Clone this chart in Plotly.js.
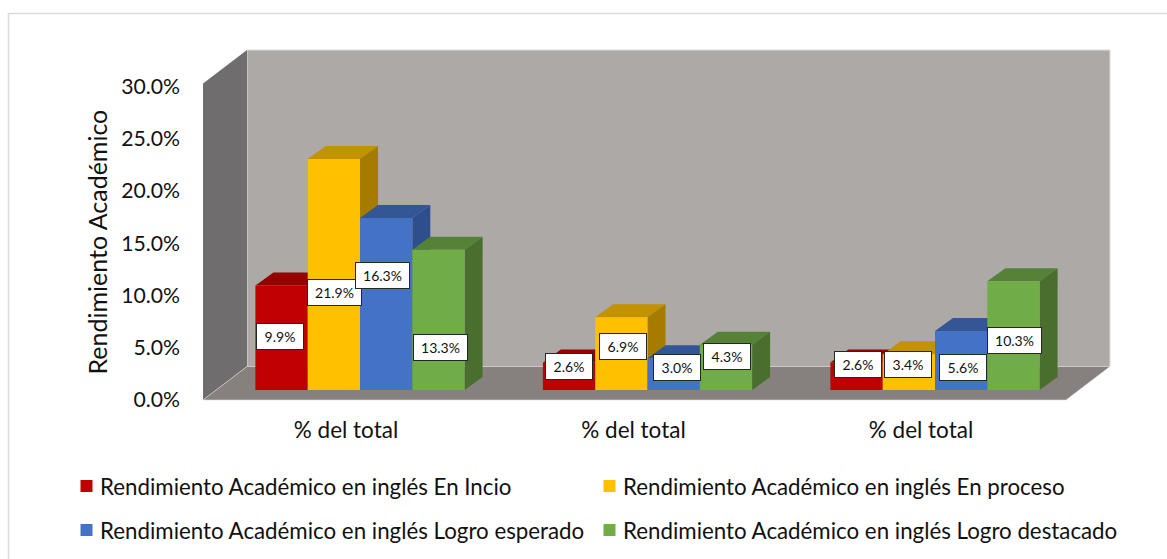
<!DOCTYPE html>
<html>
<head>
<meta charset="utf-8">
<script src="https://cdn.plot.ly/plotly-3.0.1.min.js"></script>
<style>html,body{margin:0;padding:0;background:#fff;overflow:hidden}</style>
</head>
<body>
<div id="chart" style="width:1167px;height:559px"></div>
<script>
// ---- data ----
const groups = [0, 1, 2];
const groupLabels = ["% del total", "% del total", "% del total"];
const enInicio = [9.9, 2.6, 2.6];
const enProceso = [21.9, 6.9, 3.4];
const logroEsperado = [16.3, 3.0, 5.6];
const logroDestacado = [13.3, 4.3, 10.3];
const seriesNames = [
  "Rendimiento Académico en inglés En Incio",
  "Rendimiento Académico en inglés En proceso",
  "Rendimiento Académico en inglés Logro esperado",
  "Rendimiento Académico en inglés Logro destacado"
];
const yTitle = "Rendimiento Académico";
const yTicks = [0, 5, 10, 15, 20, 25, 30];
const yTickLabels = ["0.0%", "5.0%", "10.0%", "15.0%", "20.0%", "25.0%", "30.0%"];

// ---- styles and geometry ----
const W = 1167, H = 559;
const plotL = 203, plotR = 1110, plotT = 50, plotB = 400;
const pxPerUnit = 10.55, pxPerGroup = 287.5, group0Px = 360;
const barWidthPx = 52.3, depthX = 18, depthY = 13, baseLiftPx = 10;
const tickScale = 0.9905;
const frontColors = ["#C00000", "#FFC000", "#4472C4", "#70AD47"];
const topColors = ["#960000", "#C29200", "#335694", "#558236"];
const sideColors = ["#8A0000", "#A67C00", "#2F4F8C", "#4A6E2D"];
const labelShiftX = [[-2, 0.5, -4, 2], [0, 2, 3, 1], [1, -0.5, 2, 1]];
const labelShiftY = [[-1, 18.5, -29, 28], [-10, -7, -7, -11], [-12, -8, 7.5, 5]];
const legendLeft = [60, 583, 60, 583];
const legendTop = [465, 465, 509, 509];
const legendIds = ["legend", "legend2", "legend3", "legend4"];
const FONT = "Lato, Carlito, Calibri, sans-serif";

const allSeries = [enInicio, enProceso, logroEsperado, logroDestacado];
const px = x => (x - plotL) / (plotR - plotL);
const py = y => (plotB - y) / (plotB - plotT);
const poly = pts => "M" + pts.map(p => px(p[0]) + "," + py(p[1])).join(" L") + " Z";

const xRange = [(plotL - group0Px) / pxPerGroup, (plotR - group0Px) / pxPerGroup];
const yTop = (plotB - plotT) / pxPerUnit;
const lift = baseLiftPx / pxPerUnit;
const dxU = depthX / pxPerGroup, dyU = depthY / pxPerUnit, wU = barWidthPx / pxPerGroup;

const traces = [];
// top and side faces, painted first, on the primary subplot
allSeries.forEach((vals, s) => {
  vals.forEach((v, g) => {
    const x0 = g + (s - 2) * wU, x1 = x0 + wU;
    const y0 = lift, y1 = lift + v;
    traces.push({
      type: "scatter", mode: "lines", x: [x0, x1, x1 + dxU, x0 + dxU, x0], y: [y1, y1, y1 + dyU, y1 + dyU, y1],
      fill: "toself", fillcolor: topColors[s], line: {width: 0}, showlegend: false, hoverinfo: "skip", xaxis: "x", yaxis: "y"
    });
    traces.push({
      type: "scatter", mode: "lines", x: [x1, x1 + dxU, x1 + dxU, x1, x1], y: [y0, y0 + dyU, y1 + dyU, y1, y0],
      fill: "toself", fillcolor: sideColors[s], line: {width: 0}, showlegend: false, hoverinfo: "skip", xaxis: "x", yaxis: "y"
    });
  });
});
// front faces on the overlaid subplot
allSeries.forEach((vals, s) => {
  traces.push({
    type: "bar", name: seriesNames[s], x: groups, y: vals, marker: {color: frontColors[s]},
    xaxis: "x", yaxis: "y2", legend: legendIds[s]
  });
});

const annotations = [{
  xref: "paper", yref: "paper", x: px(96), y: py(242.5), xanchor: "center", yanchor: "middle", text: yTitle,
  textangle: -90, showarrow: false, font: {family: FONT, size: 25, color: "#111"}
}];
allSeries.forEach((vals, s) => {
  vals.forEach((v, g) => {
    const txt = v.toFixed(1) + "%";
    annotations.push({
      xref: "x", yref: "y2", x: g + (s - 1.5) * wU, y: v / 2, text: txt, showarrow: false,
      xshift: labelShiftX[g][s], yshift: -labelShiftY[g][s],
      width: txt.length > 4 ? 53 : 46, height: 25, bgcolor: "#fff", bordercolor: "#262626", borderwidth: 1, borderpad: 0,
      font: {family: FONT, size: 14, color: "#111"}, align: "center", valign: "middle"
    });
  });
});

const shapes = [
  {type: "path", layer: "below", xref: "paper", yref: "paper", path: poly([[8.5, 559], [8.5, 13.5], [1167, 13.5]]).replace(" Z", ""), line: {color: "#DCDCDC", width: 1.6}},
  {type: "path", layer: "below", xref: "paper", yref: "paper", path: poly([[247, 50], [1110, 50], [1110, 366.5], [247, 366.5]]), fillcolor: "#ADA9A7", line: {color: "#DEDCDB", width: 1}},
  {type: "path", layer: "below", xref: "paper", yref: "paper", path: poly([[203, 83.5], [247, 50], [247, 366.5], [203, 400]]), fillcolor: "#6F6D6D", line: {width: 0}},
  {type: "path", layer: "below", xref: "paper", yref: "paper", path: poly([[203, 400], [247, 366.5], [1110, 366.5], [1066, 400]]), fillcolor: "#86817F", line: {color: "#DEDCDB", width: 0.6}}
];

const layout = {
  width: W, height: H, autosize: false,
  margin: {l: plotL, r: W - plotR, t: plotT, b: H - plotB, pad: 0, autoexpand: false},
  paper_bgcolor: "#fff", plot_bgcolor: "rgba(0,0,0,0)",
  font: {family: FONT, color: "#111"},
  barmode: "group", bargap: 1 - 4 * wU, bargroupgap: 0,
  xaxis: {
    range: xRange, tickmode: "array", tickvals: groups.map(g => g - 14 / pxPerGroup), ticktext: groupLabels,
    showgrid: false, zeroline: false, showline: false, ticks: "", ticklabelstandoff: 14,
    tickfont: {family: FONT, size: 22.5, color: "#111"}
  },
  yaxis: {
    range: [0, yTop], tickmode: "array", tickvals: yTicks.map(v => v * tickScale), ticktext: yTickLabels,
    showgrid: false, zeroline: false, showline: false, ticks: "", ticklabelstandoff: 22,
    tickfont: {family: FONT, size: 21.2, color: "#111"}
  },
  yaxis2: {
    overlaying: "y", side: "left", range: [-lift, yTop - lift],
    showgrid: false, zeroline: false, showline: false, showticklabels: false, ticks: ""
  },
  shapes: shapes,
  annotations: annotations,
  showlegend: true
};
legendIds.forEach((id, i) => {
  layout[id] = {
    xref: "container", yref: "container", x: legendLeft[i] / W, y: 1 - legendTop[i] / H, xanchor: "left", yanchor: "top",
    font: {family: FONT, size: 22.3, color: "#111"}, bgcolor: "rgba(0,0,0,0)"
  };
});
Plotly.newPlot("chart", traces, layout, {displayModeBar: false, responsive: false}).then(() => {
  document.querySelectorAll("#chart .legendsymbols").forEach(g => g.setAttribute("transform", "translate(6.5,0)"));
});
</script>
</body>
</html>
